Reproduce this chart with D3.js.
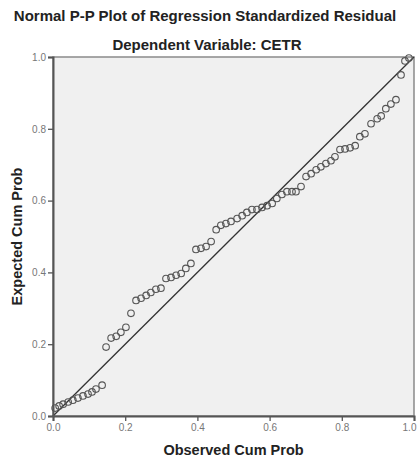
<!DOCTYPE html>
<html>
<head>
<meta charset="utf-8">
<script src="https://cdn.jsdelivr.net/npm/d3@7"></script>
<style>
  body { margin: 0; background: #fff; }
  svg { display: block; }
</style>
</head>
<body>
<svg></svg>
<script>
// Data
const observed = [0.006, 0.017, 0.028, 0.042, 0.055, 0.069, 0.083, 0.097, 0.108, 0.119,
  0.136, 0.147, 0.161, 0.175, 0.188, 0.202, 0.216, 0.230, 0.244, 0.258,
  0.271, 0.285, 0.299, 0.313, 0.327, 0.341, 0.355, 0.368, 0.382, 0.396,
  0.410, 0.424, 0.438, 0.452, 0.465, 0.479, 0.493, 0.510, 0.524, 0.537,
  0.551, 0.565, 0.579, 0.593, 0.607, 0.620, 0.634, 0.648, 0.662, 0.673,
  0.687, 0.701, 0.715, 0.729, 0.742, 0.756, 0.770, 0.781, 0.795, 0.809,
  0.823, 0.837, 0.850, 0.864, 0.881, 0.898, 0.909, 0.922, 0.936, 0.950,
  0.964, 0.975, 0.986];
const expected = [0.022, 0.028, 0.033, 0.039, 0.044, 0.050, 0.056, 0.061, 0.067, 0.075,
  0.086, 0.192, 0.217, 0.222, 0.233, 0.247, 0.286, 0.322, 0.328, 0.336,
  0.344, 0.353, 0.356, 0.383, 0.386, 0.392, 0.397, 0.411, 0.425, 0.464,
  0.467, 0.472, 0.486, 0.519, 0.531, 0.536, 0.542, 0.550, 0.558, 0.567,
  0.575, 0.575, 0.581, 0.586, 0.592, 0.606, 0.617, 0.625, 0.625, 0.625,
  0.639, 0.667, 0.675, 0.686, 0.694, 0.703, 0.711, 0.722, 0.742, 0.744,
  0.747, 0.753, 0.778, 0.786, 0.814, 0.828, 0.836, 0.856, 0.869, 0.881,
  0.950, 0.989, 0.997];
const ticks = [0.0, 0.2, 0.4, 0.6, 0.8, 1.0];
const refLine = [0, 1];

const title = "Normal P-P Plot of Regression Standardized Residual";
const subtitle = "Dependent Variable: CETR";
const x_label = "Observed Cum Prob";
const y_label = "Expected Cum Prob";

const width = 418;
const height = 459;
const margin = { left: 53, right: 4, top: 57, bottom: 43 };

const svg = d3.select("svg").attr("width", width).attr("height", height);

const x_scale = d3.scaleLinear().domain([0, 1]).range([margin.left, width - margin.right]);
const y_scale = d3.scaleLinear().domain([0, 1]).range([height - margin.bottom, margin.top]);

const font = "Arial, 'Liberation Sans', sans-serif";

// plot background + frame
svg.append("rect")
  .attr("x", x_scale(0))
  .attr("y", y_scale(1))
  .attr("width", x_scale(1) - x_scale(0))
  .attr("height", y_scale(0) - y_scale(1))
  .attr("fill", "#f0f0f0")
  .attr("stroke", "#8a8a8a")
  .attr("stroke-width", 1.5);

// titles
svg.append("text")
  .attr("x", 205)
  .attr("y", 21)
  .attr("text-anchor", "middle")
  .style("font-family", font)
  .style("font-weight", "bold")
  .style("font-size", "15px")
  .style("fill", "#222")
  .text(title);

svg.append("text")
  .attr("x", 207)
  .attr("y", 50)
  .attr("text-anchor", "middle")
  .style("font-family", font)
  .style("font-weight", "bold")
  .style("font-size", "15px")
  .style("fill", "#222")
  .text(subtitle);

// reference diagonal
svg.append("line")
  .attr("x1", x_scale(refLine[0]))
  .attr("y1", y_scale(refLine[0]))
  .attr("x2", x_scale(refLine[1]))
  .attr("y2", y_scale(refLine[1]))
  .attr("stroke", "#333")
  .attr("stroke-width", 1.3);

// points
svg.append("g")
  .selectAll("circle")
  .data(observed.map((d, i) => ({ x: d, y: expected[i] })))
  .join("circle")
  .attr("cx", d => x_scale(d.x))
  .attr("cy", d => y_scale(d.y))
  .attr("r", 3.3)
  .attr("fill", "none")
  .attr("stroke", "#555")
  .attr("stroke-width", 1.1);

// axes
const x_axis = d3.axisBottom(x_scale).tickValues(ticks).tickFormat(d3.format(".1f")).tickSize(5).tickPadding(3);
const y_axis = d3.axisLeft(y_scale).tickValues(ticks).tickFormat(d3.format(".1f")).tickSize(5).tickPadding(2);

const gx = svg.append("g")
  .attr("transform", `translate(0,${y_scale(0)})`)
  .call(x_axis);
const gy = svg.append("g")
  .attr("transform", `translate(${x_scale(0)},0)`)
  .call(y_axis);

[gx, gy].forEach(g => {
  g.select(".domain").attr("stroke", "#555").attr("stroke-width", 2);
  g.selectAll(".tick line").attr("stroke", "#555").attr("stroke-width", 1.3);
  g.selectAll(".tick text")
    .style("font-family", font)
    .style("font-size", "10px")
    .style("fill", "#777");
});

// keep the last x tick label inside the window
gx.selectAll(".tick text").filter(d => d === 1).attr("dx", -5);

// axis labels
svg.append("text")
  .attr("x", (x_scale(0) + x_scale(1)) / 2)
  .attr("y", 455)
  .attr("text-anchor", "middle")
  .style("font-family", font)
  .style("font-weight", "bold")
  .style("font-size", "14.5px")
  .style("fill", "#222")
  .text(x_label);

svg.append("text")
  .attr("text-anchor", "middle")
  .attr("transform", `translate(22, ${(y_scale(0) + y_scale(1)) / 2}) rotate(-90)`)
  .style("font-family", font)
  .style("font-weight", "bold")
  .style("font-size", "14.5px")
  .style("fill", "#222")
  .text(y_label);
</script>
</body>
</html>
